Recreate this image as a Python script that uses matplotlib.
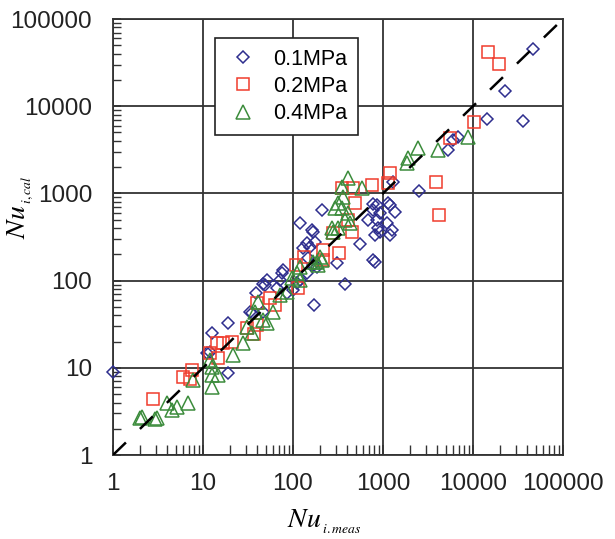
import numpy as np
import matplotlib
matplotlib.use("Agg")
import matplotlib.pyplot as plt
from matplotlib.ticker import FixedLocator, LogLocator, NullFormatter

plt.rcParams.update({
    "font.family": "Liberation Sans",
    "mathtext.fontset": "stix",
})

# ---------------- data ----------------
# 0.1 MPa
meas_01 = [1.0, 46400, 22700, 14300, 35900, 6810, 5260, 5960, 2510, 1290,
           210, 120, 167, 143, 155, 774, 1200, 1360, 681, 880,
           1200, 555, 815, 309, 378, 171, 77.4, 46.4, 38.7, 66.3,
           85.8, 35, 46.4, 19, 12.6, 11.1, 19, 143, 120, 167,
           185, 12, 33.3, 48.9, 75.5, 163, 176, 129, 147, 774,
           51.4, 71.7, 926, 1140, 1110, 1260, 926, 815, 858, 858,
           774, 111, 100]
cal_01 = [8.95, 45300, 14900, 7130, 6770, 4430, 3150, 4100, 1070, 1350,
          645, 458, 361, 270, 243, 755, 736, 612, 495, 401,
          333, 263, 163, 159, 91, 52, 132, 91, 72, 82,
          72, 42.5, 44, 32.6, 25, 14.8, 8.7, 122, 102, 151,
          143, 15.2, 44, 89, 122, 380, 277, 237, 182, 172,
          102, 102, 596, 776, 458, 380, 361, 333, 495, 736,
          645, 94, 78]

# 0.2 MPa
meas_02 = [14700, 19400, 10260, 5530, 4170, 3880, 755, 1200, 1140, 350,
           464, 408, 452, 324, 215, 215, 278, 132, 108, 113,
           39.7, 55.5, 62.9, 39.7, 30.8, 36.8, 14.3, 21, 12, 14.7,
           7.55, 6.0, 7.17, 2.78, 16.7, 489]
cal_02 = [41900, 30500, 6590, 4320, 565, 1350, 1250, 1710, 1320, 1150,
          1150, 495, 361, 207, 224, 172, 352, 187, 151, 82,
          55, 63, 52, 31, 28.6, 24.4, 19.2, 19.8, 14.8, 12.9,
          9.4, 7.8, 7.4, 4.39, 19.2, 776]

# 0.4 MPa
meas_04 = [8800, 4070, 2450, 1900, 1850, 408, 584, 350, 359, 316,
           293, 408, 378, 316, 278, 430, 200, 185, 120, 111,
           97.5, 210, 167, 190, 85.8, 71.7, 40.7, 37.8, 46.4, 60,
           51.4, 30.8, 35, 27.8, 21.5, 12, 12.6, 14.7, 12.6, 12.6,
           7.74, 6.8, 5.14, 3.98, 4.53, 3.08, 2.1, 2.0, 2.93, 350,
           271, 120]
cal_04 = [4430, 3150, 3320, 2550, 2230, 1500, 1150, 1180, 909, 776,
          681, 596, 495, 401, 361, 458, 187, 163, 143, 122,
          107, 172, 163, 151, 74, 68, 57, 44, 35.3, 44,
          32.6, 29.4, 25, 19.2, 14.0, 12.3, 10.2, 8.3, 8.3, 6.0,
          7.25, 3.95, 3.55, 3.95, 3.28, 2.66, 2.73, 2.66, 2.59, 681,
          401, 102]

line_ends = [1, 100000]
decades = [1, 10, 100, 1000, 10000, 100000]
decade_labels = ["1", "10", "100", "1000", "10000", "100000"]

# ---------------- figure ----------------
fig = plt.figure(figsize=(6.15, 5.39), dpi=100)
ax = fig.add_axes([0.1837, 0.1558, 0.7317, 0.8089])

ax.plot(meas_01, cal_01, linestyle="none", marker="D", markersize=6.6,
        markerfacecolor="none", markeredgecolor="#2E2E8E", markeredgewidth=1.1,
        label="0.1MPa", zorder=3, clip_on=False)
ax.plot(meas_02, cal_02, linestyle="none", marker="s", markersize=8.5,
        markerfacecolor="none", markeredgecolor="#F03C2C", markeredgewidth=1.1,
        label="0.2MPa", zorder=4, clip_on=False)
ax.plot(meas_04, cal_04, linestyle="none", marker="^", markersize=10.5,
        markerfacecolor="none", markeredgecolor="#3C8C3C", markeredgewidth=1.1,
        label="0.4MPa", zorder=5, clip_on=False)

ax.plot(line_ends, line_ends, color="black", linewidth=1.8,
        dashes=(7.2, 7.8), zorder=6)

ax.set_xscale("log")
ax.set_yscale("log")
ax.set_xlim(1, 100000)
ax.set_ylim(1, 100000)

for axis in (ax.xaxis, ax.yaxis):
    axis.set_major_locator(FixedLocator(decades))
    axis.set_minor_locator(LogLocator(base=10, subs=np.arange(2, 10)))
    axis.set_minor_formatter(NullFormatter())
ax.set_xticklabels(decade_labels)
ax.set_yticklabels(decade_labels)

ax.tick_params(which="both", direction="in", top=False, right=False,
               colors="#333333", labelcolor="#222222", labelsize=17.5)
ax.tick_params(axis="x", which="major", length=7, width=1.2, pad=13)
ax.tick_params(axis="y", which="major", length=6, width=1.2, pad=15)
ax.tick_params(axis="x", which="minor", length=7, width=1.0)
ax.tick_params(axis="y", which="minor", length=6, width=1.0)

ax.grid(True, which="major", color="#333333", linewidth=1.3)
for sp in ax.spines.values():
    sp.set_color("#333333")
    sp.set_linewidth(1.3)

ax.set_xlabel(r"$Nu_{\,_{i.meas}}$", fontsize=20)
ax.set_ylabel(r"$Nu_{\,_{i,cal}}$", fontsize=20)
ax.xaxis.set_label_coords(0.47, -0.122)
ax.yaxis.set_label_coords(-0.172, 0.567)

leg = ax.legend(loc="upper left", bbox_to_anchor=(0.227, 0.957), fontsize=15.5,
                frameon=True, fancybox=False, framealpha=1, edgecolor="#222222",
                handletextpad=0.6, borderpad=0.5, labelspacing=0.3,
                handlelength=1.6, borderaxespad=0)
leg.get_frame().set_linewidth(1.2)
leg.set_zorder(10)

fig.savefig("out.png", dpi=100)
